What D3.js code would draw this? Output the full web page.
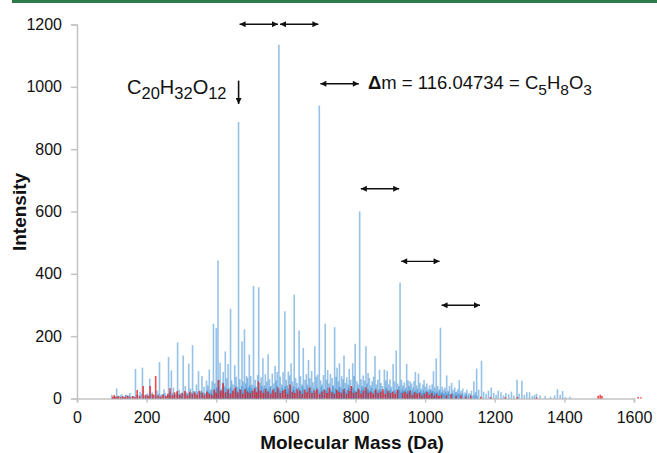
<!DOCTYPE html>
<html>
<head>
<meta charset="utf-8">
<script src="https://cdn.jsdelivr.net/npm/d3@7"></script>
<style>
  html, body { margin: 0; padding: 0; background: #fff; }
  svg { display: block; font-family: "Liberation Sans", Arial, Helvetica, sans-serif; }
</style>
</head>
<body>
<svg id="chart" width="657" height="453"></svg>
<script>
// ---- Data ----
// Major blue peaks: mass (Da) and intensity
const peakMass = [100,114,141,168,188,209,237,263,271,289,305,321,332,349,359,372,380,392,400,405,411,420,426,434,441,453,464,474,481,487,495,507,522,534,549,569,575,580,597,607,615,624,638,650,665,674,683,691,696,713,720,728,740,747,754,760,767,782,792,799,812,822,830,836,856,869,883,891,908,917,928,947,957,972,981,997,1024,1032,1044,1062,1076,1098,1140,1148,1162,1190,1210,1264,1278,1300,1320,1380,1395,1416];
const peakInt  = [12,32,12,95,99,64,117,133,90,180,138,112,171,88,72,58,93,240,226,443,115,85,151,111,288,107,887,183,222,72,141,361,357,129,142,104,85,1135,280,87,113,333,218,162,124,88,168,77,940,240,91,79,229,99,113,72,138,95,113,176,600,74,168,82,136,92,93,89,111,154,372,111,55,85,80,59,88,129,227,74,50,59,55,96,121,35,25,60,57,20,15,30,24,6];

// Minor blue peaks ("grass")
const grassMass = [120,128,135,146,152,158,175,181,196,203,216,222,230,244,250,256,268,277,283,294,299,311,316,326,338,343,354,365,369,376,385,388,396,403,408,415,418,423,430,437,444,448,457,460,468,471,477,484,490,493,499,503,512,515,519,526,529,538,541,545,553,557,561,565,572,584,588,592,601,604,611,619,622,628,632,642,646,655,659,662,669,678,687,700,704,708,717,724,733,736,744,751,757,764,771,775,779,786,789,796,804,808,816,819,826,833,840,844,848,852,860,864,873,877,887,895,899,903,912,921,925,932,936,940,944,951,954,961,965,968,976,985,989,993,1001,1005,1009,1013,1017,1020,1028,1036,1040,1049,1053,1057,1066,1070,1080,1085,1090,1094,1103,1108,1115,1120,1126,1133,1145,1154,1168,1175,1182,1197,1204,1218,1225,1232,1240,1248,1255,1270,1285,1292,1308,1314,1330,1345,1360,1372,1388,1403];
const grassInt  = [8,14,6,10,18,7,12,22,9,16,20,11,25,14,30,10,22,35,15,28,12,40,18,32,24,45,20,38,16,42,30,55,48,35,60,28,52,40,65,33,58,45,70,38,62,30,55,48,66,35,72,44,60,38,75,50,68,42,78,55,62,40,80,48,58,70,45,85,60,42,74,55,40,66,50,72,45,60,78,44,65,52,70,58,45,75,60,48,66,42,70,55,38,62,50,68,45,60,40,72,55,45,62,40,58,48,66,42,55,70,45,60,50,40,58,45,62,38,55,48,40,60,42,52,35,58,40,48,35,55,42,50,32,45,38,48,30,42,28,45,35,40,30,38,28,35,25,40,28,35,22,30,25,32,20,28,18,25,20,28,22,15,25,18,12,20,10,18,14,22,10,15,12,20,8,12,10,8,6,10,12,5];

// Low-level blue peaks forming the dense base
const baseMass = [105,109,116,124,132,139,149,162,171,185,192,200,207,214,220,227,235,241,248,253,260,265,274,280,286,291,297,302,308,313,319,324,330,335,341,346,352,357,362,367,374,378,
  382,386,391,394,398,401,406,410,413,417,421,425,428,432,435,439,442,446,450,454,456,459,463,466,470,473,476,480,483,486,489,492,496,498,501,505,509,511,514,517,
  521,524,527,531,535,537,540,543,547,551,555,559,563,567,570,574,577,582,586,590,594,598,602,606,609,613,617,621,625,630,634,637,640,644,648,652,657,661,666,671,
  675,680,685,689,693,698,702,706,710,715,719,722,726,730,735,738,742,746,749,753,758,762,766,769,773,777,781,784,788,791,794,798,802,806,810,814,818,821,824,828,
  832,835,838,842,846,850,854,858,862,866,870,875,880,885,889,893,897,901,905,910,914,919,923,927,930,934,938,942,947,950,953,958,963,967,971,974,978,983,987,991,
  995,999,1003,1007,1011,1015,1019,1022,1026,1030,1034,1038,1042,1047,1051,1055,1059,1064,1068,1073,1078,1083,1088,1092,1097,1101,1106,1112,1118,1124,1130,1137,1143,1150];
const baseInt  = [5,8,6,10,7,12,9,8,11,14,10,13,9,15,12,10,16,11,14,18,12,15,17,13,20,14,16,19,15,22,17,14,20,24,16,22,18,25,20,17,26,22,
  18,25,14,30,22,35,16,28,20,32,26,15,34,22,28,18,36,24,30,20,38,26,16,32,24,40,20,30,18,35,28,22,42,25,34,18,30,38,24,20,
  36,28,22,40,26,32,18,35,24,30,38,22,28,34,20,42,26,30,24,36,28,40,22,32,25,38,20,30,26,34,22,36,28,24,40,30,20,34,26,38,
  24,32,20,36,28,22,38,26,30,24,34,20,30,26,38,22,32,28,24,36,20,30,26,34,22,28,36,24,30,20,32,26,22,34,28,24,30,20,36,26,
  22,30,28,24,34,20,26,32,22,28,30,24,20,28,34,22,26,30,20,24,28,22,32,26,20,30,24,28,22,26,20,28,24,18,26,22,30,20,24,18,
  26,20,24,18,22,28,16,24,20,18,22,16,24,20,18,14,22,16,20,14,18,14,20,12,16,14,18,12,15,10,14,10,12,8];

// Red series
const redMass = [103,107,112,118,125,131,138,145,152,160,166,173,180,190,197,204,210,218,226,233,240,247,255,261,267,274,280,288,295,302,310,317,324,331,338,345,352,360,366,373,380,387,394,400,406,413,420,427,434,441,448,455,462,469,476,483,490,497,504,510,516,521,528,535,542,549,556,563,570,577,584,591,598,605,612,619,626,633,640,647,654,661,668,675,682,689,697,704,711,718,725,732,739,746,753,760,767,774,781,788,795,802,809,816,823,830,837,844,851,858,865,872,879,886,893,900,907,914,921,935,942,949,956,963,970,977,984,991,998,1005,1012,1019,1026,1033,1040,1047,1061,1075,1089,1103,1117,1131,1160,1188,1230,1265,1320,1497,1503,1508,1612,1620];
const redInt  = [6,11,5,8,4,7,5,9,6,8,5,27,8,40,12,9,40,14,72,10,6,12,8,15,33,10,20,24,12,18,24,10,22,15,20,12,25,18,10,22,15,12,28,18,59,25,49,20,30,15,25,35,20,28,15,30,22,18,25,32,20,55,25,18,30,22,15,28,20,35,18,25,30,15,45,22,18,30,25,15,28,20,35,18,25,30,15,22,28,18,35,20,15,28,22,18,30,15,25,40,18,22,30,15,25,35,18,22,15,28,18,22,30,15,25,18,22,15,28,18,22,15,25,12,20,15,18,10,15,22,12,18,10,15,8,12,10,14,8,10,6,9,6,5,4,5,4,9,12,8,5,4];

// Axis ticks
const xTicks = [0,200,400,600,800,1000,1200,1400,1600];
const yTicks = [0,200,400,600,800,1000,1200];

// Annotation: mass-difference arrows (from mass, to mass, height in intensity units)
const seriesMasses = [464.19,580.24,696.28,812.33,928.38,1044.42,1160.47];
const arrowLevels  = [1201,1201,1010,673,440,299];

// ---- Drawing ----
const svg = d3.select("#chart");
const x = d3.scaleLinear().domain([0,1600]).range([77,634]);
const y = d3.scaleLinear().domain([0,1200]).range([398.5,24.5]);

// top green rule
svg.append("line").attr("x1",12).attr("x2",657).attr("y1",1.5).attr("y2",1.5)
   .attr("stroke","#2f7a4b").attr("stroke-width",3);

// axes
const xAxis = d3.axisBottom(x).tickValues(xTicks).tickFormat(d3.format("d")).tickSize(4).tickPadding(9);
const yAxis = d3.axisLeft(y).tickValues(yTicks).tickFormat(d3.format("d")).tickSize(6).tickPadding(9);

const gx = svg.append("g").attr("transform",`translate(0,${y(0)})`).call(xAxis);
const gy = svg.append("g").attr("transform",`translate(${x(0)},0)`).call(yAxis);
[gx,gy].forEach(g=>{
  g.selectAll("path,line").attr("stroke","#c4c4c4").attr("stroke-width",1.5);
  g.selectAll("text").attr("fill","#111").style("font-size","16px");
});

// blue spectrum
const blueBase = d3.zip(baseMass,baseInt);
const blue = d3.zip(grassMass,grassInt).concat(d3.zip(peakMass,peakInt));
svg.append("g").selectAll("line").data(blueBase).join("line")
  .attr("x1",d=>x(d[0])).attr("x2",d=>x(d[0]))
  .attr("y1",y(0)).attr("y2",d=>y(d[1]))
  .attr("stroke","#2f86d0").attr("stroke-opacity",0.55).attr("stroke-width",1.4);
svg.append("g").selectAll("line").data(blue).join("line")
  .attr("x1",d=>x(d[0])).attr("x2",d=>x(d[0]))
  .attr("y1",y(0)).attr("y2",d=>y(d[1]))
  .attr("stroke","#2f86d0").attr("stroke-opacity",0.5).attr("stroke-width",1.6);

// red spectrum
svg.append("g").selectAll("line").data(d3.zip(redMass,redInt)).join("line")
  .attr("x1",d=>x(d[0])).attr("x2",d=>x(d[0]))
  .attr("y1",y(0)).attr("y2",d=>y(d[1]))
  .attr("stroke","#ee1c1c").attr("stroke-opacity",0.8).attr("stroke-width",1.6);

// arrow markers
const defs = svg.append("defs");
defs.append("marker").attr("id","ah").attr("viewBox","0 0 10 10").attr("refX",10).attr("refY",5)
  .attr("markerWidth",7).attr("markerHeight",6).attr("markerUnits","userSpaceOnUse").attr("orient","auto-start-reverse")
  .append("path").attr("d","M0,0 L10,5 L0,10 Z").attr("fill","#111");

const arrows = arrowLevels.map((lv,i)=>({a:seriesMasses[i],b:seriesMasses[i+1],lv}));
svg.append("g").selectAll("line").data(arrows).join("line")
  .attr("x1",d=>x(d.a)+1).attr("x2",d=>x(d.b)-1)
  .attr("y1",d=>y(d.lv)).attr("y2",d=>y(d.lv))
  .attr("stroke","#111").attr("stroke-width",1.4)
  .attr("marker-start","url(#ah)").attr("marker-end","url(#ah)");

// down arrow to C20H32O12 peak
svg.append("line").attr("x1",x(seriesMasses[0])).attr("x2",x(seriesMasses[0]))
  .attr("y1",y(1020)).attr("y2",y(945))
  .attr("stroke","#111").attr("stroke-width",1.6).attr("marker-end","url(#ah)");

// formula label
const f = svg.append("text").attr("x",127).attr("y",94).attr("fill","#111").style("font-size","20px");
[["C",0],["20",1],["H",0],["32",1],["O",0],["12",1]].forEach(([t,s],i,arr)=>{
  const prevSub = i>0 && arr[i-1][1];
  const dy = s ? 5 : (prevSub ? -5 : 0);
  f.append("tspan").text(t).attr("dy",dy).style("font-size", s ? "16.5px" : "20px");
});

// delta m label
const g2 = svg.append("text").attr("x",368).attr("y",89).attr("fill","#111").style("font-size","18.5px");
g2.append("tspan").text("Δ").style("font-weight","bold");
const dparts = [["m = 116.04734 = C",0],["5",1],["H",0],["8",1],["O",0],["3",1]];
dparts.forEach(([t,s],i,arr)=>{
  const prevSub = i>0 && arr[i-1][1];
  const dy = s ? 6 : (prevSub ? -6 : 0);
  g2.append("tspan").text(t).attr("dy",dy).style("font-size", s ? "15.5px" : "18.5px");
});

// axis titles
svg.append("text").attr("x",352).attr("y",449).attr("text-anchor","middle")
  .style("font-size","19px").style("font-weight","bold").attr("fill","#111").text("Molecular Mass (Da)");
svg.append("text").attr("transform","translate(26,212) rotate(-90)").attr("text-anchor","middle")
  .style("font-size","19px").style("font-weight","bold").attr("fill","#111").text("Intensity");
</script>
</body>
</html>
